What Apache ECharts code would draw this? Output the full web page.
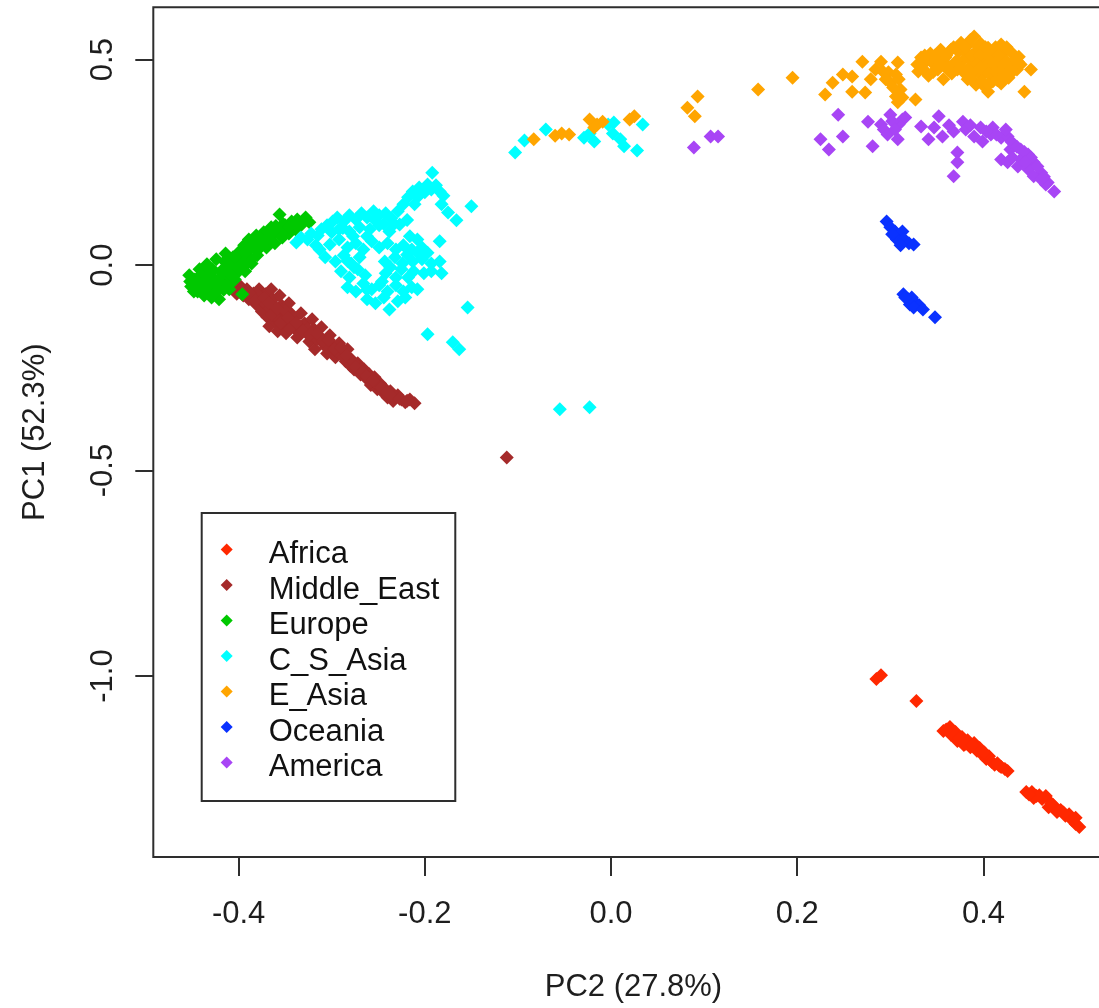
<!DOCTYPE html>
<html>
<head>
<meta charset="utf-8">
<script src="https://cdn.jsdelivr.net/npm/echarts@6/dist/echarts.min.js"></script>
<style>
html,body{margin:0;padding:0;background:#fff;overflow:hidden;}
#chart{width:1120px;height:1008px;}
</style>
</head>
<body>
<div id="chart"></div>
<script>
// ---------- data (PC2, PC1) ----------
const groupNames = ['Africa','Middle_East','Europe','C_S_Asia','E_Asia','Oceania','America'];
const xTicks = [-0.4,-0.2,0.0,0.2,0.4];
const yTicks = [-1.0,-0.5,0.0,0.5];

const africa = [
[0.285,-1.007],[0.290,-0.998],[0.328,-1.061],
[0.357,-1.134],[0.364,-1.124],[0.365,-1.143],[0.370,-1.136],[0.372,-1.158],[0.377,-1.148],[0.379,-1.168],[0.383,-1.156],[0.386,-1.173],[0.390,-1.163],[0.393,-1.182],[0.396,-1.175],[0.399,-1.192],[0.403,-1.202],[0.406,-1.195],[0.409,-1.209],[0.412,-1.216],[0.415,-1.212],[0.419,-1.221],[0.423,-1.226],[0.426,-1.231],
[0.360,-1.130],[0.374,-1.152],[0.381,-1.165],[0.388,-1.168],[0.401,-1.186],[0.417,-1.218],
[0.446,-1.282],[0.452,-1.282],[0.457,-1.292],[0.463,-1.299],[0.467,-1.292],[0.470,-1.319],[0.475,-1.314],[0.479,-1.331],[0.483,-1.326],[0.488,-1.340],[0.492,-1.336],[0.495,-1.350],[0.499,-1.360],[0.503,-1.367],[0.499,-1.345],[0.454,-1.297],
[0.460,-1.290],[0.473,-1.310],[0.486,-1.332],[0.449,-1.288]
];

const middleEast = [
[-0.417,-0.045],[-0.410,-0.057],[-0.404,-0.064],[-0.399,-0.049],[-0.395,-0.074],[-0.391,-0.059],[-0.389,-0.083],[-0.384,-0.069],[-0.381,-0.096],[-0.378,-0.059],
[-0.376,-0.083],[-0.375,-0.113],[-0.371,-0.071],[-0.370,-0.098],[-0.369,-0.127],[-0.367,-0.149],[-0.365,-0.059],[-0.363,-0.083],[-0.362,-0.113],[-0.361,-0.137],
[-0.358,-0.161],[-0.356,-0.074],[-0.354,-0.098],[-0.353,-0.122],[-0.351,-0.147],[-0.349,-0.166],[-0.346,-0.093],[-0.344,-0.117],[-0.343,-0.142],[-0.339,-0.156],
[-0.337,-0.176],[-0.333,-0.117],[-0.329,-0.142],[-0.327,-0.166],[-0.324,-0.186],[-0.321,-0.132],[-0.319,-0.156],[-0.318,-0.205],[-0.313,-0.176],[-0.311,-0.151],
[-0.308,-0.193],[-0.305,-0.215],[-0.302,-0.171],[-0.299,-0.195],[-0.296,-0.224],[-0.292,-0.190],[-0.288,-0.215],[-0.285,-0.234],[-0.283,-0.205],[-0.279,-0.229],
[-0.276,-0.254],[-0.272,-0.239],[-0.269,-0.266],[-0.265,-0.254],[-0.262,-0.278],[-0.258,-0.292],[-0.254,-0.273],[-0.251,-0.302],[-0.248,-0.288],[-0.244,-0.312],
[-0.240,-0.322],[-0.237,-0.307],[-0.234,-0.331],[-0.229,-0.317],[-0.225,-0.327],[-0.221,-0.334],[-0.216,-0.327],[-0.211,-0.336],
[-0.405,-0.055],[-0.393,-0.066],[-0.386,-0.078],[-0.380,-0.070],[-0.373,-0.090],[-0.366,-0.105],[-0.358,-0.130],[-0.350,-0.110],[-0.341,-0.130],[-0.334,-0.150],
[-0.326,-0.155],[-0.316,-0.180],[-0.306,-0.200],[-0.294,-0.210],[-0.287,-0.225],[-0.280,-0.245],[-0.270,-0.250],[-0.260,-0.265],[-0.252,-0.288],[-0.243,-0.300],[-0.232,-0.320],
[-0.412,-0.050],[-0.402,-0.070],[-0.397,-0.058],[-0.388,-0.068],[-0.382,-0.085],[-0.372,-0.080],[-0.368,-0.092],[-0.364,-0.120],[-0.359,-0.105],[-0.355,-0.140],
[-0.347,-0.128],[-0.345,-0.155],[-0.338,-0.140],[-0.331,-0.160],[-0.323,-0.168],[-0.315,-0.168],[-0.310,-0.185],[-0.303,-0.182],[-0.297,-0.205],[-0.290,-0.200],
[-0.284,-0.220],[-0.277,-0.236],[-0.274,-0.248],[-0.267,-0.260],[-0.263,-0.270],[-0.256,-0.280],[-0.247,-0.298],[-0.241,-0.308],[-0.236,-0.318],[-0.227,-0.325],[-0.219,-0.330],
[-0.112,-0.468]
];

const europe = [
[-0.452,-0.040],[-0.453,-0.025],[-0.451,-0.052],[-0.447,-0.035],[-0.444,-0.064],[-0.442,-0.010],[-0.440,-0.045],[-0.437,-0.074],[-0.435,-0.025],[-0.434,0.002],
[-0.432,-0.054],[-0.429,-0.079],[-0.428,-0.010],[-0.426,-0.035],[-0.424,0.014],[-0.423,-0.064],[-0.421,-0.083],[-0.419,-0.015],[-0.418,-0.045],[-0.415,0.009],
[-0.414,0.028],[-0.412,-0.025],[-0.410,-0.059],[-0.408,-0.001],[-0.406,0.019],[-0.404,-0.035],[-0.401,-0.010],[-0.399,0.033],[-0.397,0.009],[-0.396,-0.071],
[-0.394,0.048],[-0.393,-0.015],[-0.391,0.024],[-0.389,0.062],[-0.386,0.004],[-0.384,0.043],[-0.381,0.072],[-0.380,0.024],[-0.376,0.058],[-0.373,0.080],
[-0.370,0.043],[-0.367,0.067],[-0.365,0.092],[-0.361,0.053],[-0.358,0.082],[-0.356,0.123],[-0.353,0.067],[-0.350,0.097],[-0.346,0.077],[-0.343,0.106],
[-0.339,0.087],[-0.337,0.111],[-0.333,0.097],[-0.328,0.116],[-0.324,0.104],[-0.428,-0.059],[-0.448,-0.064],
[-0.446,-0.050],[-0.441,-0.025],[-0.436,-0.040],[-0.431,-0.020],[-0.425,-0.050],[-0.420,-0.030],[-0.416,-0.060],[-0.413,-0.005],[-0.409,-0.040],[-0.405,0.005],
[-0.402,-0.020],[-0.398,0.020],[-0.395,-0.005],[-0.390,0.040],[-0.387,0.015],[-0.383,0.058],[-0.378,0.040],[-0.374,0.062],[-0.369,0.080],[-0.364,0.075],
[-0.360,0.095],[-0.355,0.085],[-0.348,0.090],[-0.341,0.098],[-0.335,0.105],[-0.330,0.110],[-0.438,-0.060],[-0.433,-0.068],[-0.427,-0.070],
[-0.449,-0.045],[-0.443,-0.040],[-0.439,-0.052],[-0.434,-0.030],[-0.430,-0.045],[-0.422,-0.040],[-0.417,-0.020],[-0.411,-0.050],[-0.407,-0.025],[-0.403,0.020],
[-0.392,0.030],[-0.388,0.050],[-0.379,0.060],[-0.371,0.060],[-0.362,0.085],[-0.352,0.100],[-0.345,0.093],[-0.338,0.100]
];

const csAsia = [
[-0.338,0.055],[-0.333,0.067],[-0.326,0.062],[-0.322,0.077],[-0.315,0.072],[-0.311,0.087],[-0.305,0.097],[-0.299,0.106],[-0.317,0.048],
[-0.294,0.116],[-0.287,0.106],[-0.281,0.121],[-0.274,0.111],[-0.268,0.126],[-0.262,0.116],[-0.255,0.131],[-0.249,0.121],[-0.242,0.126],[-0.236,0.114],[-0.229,0.131],
[-0.223,0.148],[-0.218,0.165],[-0.213,0.179],[-0.208,0.165],[-0.206,0.189],[-0.200,0.177],[-0.197,0.196],[-0.193,0.184],[-0.188,0.194],[-0.184,0.179],[-0.180,0.169],
[-0.211,0.148],[-0.192,0.225],[-0.182,0.148],[-0.175,0.128],[-0.166,0.109],[-0.150,0.143],
[-0.292,0.087],[-0.281,0.082],[-0.270,0.092],[-0.259,0.087],[-0.249,0.097],[-0.238,0.082],[-0.227,0.099],[-0.216,0.070],[-0.208,0.062],
[-0.313,0.038],[-0.302,0.050],[-0.292,0.062],[-0.283,0.043],[-0.274,0.053],[-0.266,0.038],[-0.257,0.058],[-0.249,0.043],[-0.240,0.053],[-0.231,0.038],[-0.223,0.048],[-0.214,0.038],[-0.203,0.043],
[-0.307,0.019],[-0.296,0.009],[-0.287,0.024],[-0.279,0.004],[-0.270,0.019],[-0.243,0.009],[-0.232,0.019],[-0.224,0.004],[-0.213,0.009],[-0.203,0.014],[-0.193,0.004],[-0.184,0.009],
[-0.290,-0.015],[-0.281,-0.030],[-0.272,-0.010],[-0.264,-0.025],[-0.242,-0.020],[-0.231,-0.030],[-0.225,-0.010],[-0.201,-0.020],[-0.193,-0.015],[-0.182,-0.020],[-0.184,0.058],
[-0.283,-0.054],[-0.274,-0.064],[-0.266,-0.045],[-0.257,-0.059],[-0.249,-0.049],[-0.240,-0.064],[-0.231,-0.049],[-0.223,-0.064],[-0.214,-0.054],[-0.208,-0.059],
[-0.262,-0.083],[-0.253,-0.093],[-0.244,-0.079],[-0.238,-0.108],[-0.229,-0.088],[-0.221,-0.079],
[-0.300,0.080],[-0.288,0.090],[-0.277,0.070],[-0.262,0.070],[-0.253,0.108],[-0.244,0.100],[-0.233,0.100],[-0.219,0.110],[-0.219,0.025],[-0.208,0.030],
[-0.197,0.030],[-0.276,-0.005],[-0.283,0.010],[-0.237,-0.005],[-0.218,-0.030],[-0.212,-0.015],[-0.246,-0.040],[-0.262,-0.060],
[-0.154,-0.103],[-0.197,-0.168],[-0.170,-0.188],[-0.163,-0.205],[-0.055,-0.351],[-0.023,-0.346],
[-0.103,0.274],[-0.093,0.303],[-0.070,0.330],[-0.029,0.310],[-0.023,0.320],[-0.018,0.301],[-0.003,0.342],[0.003,0.347],[0.002,0.320],[0.010,0.306],[0.014,0.289],[0.028,0.279],[0.034,0.342]
];

const eAsia = [
[-0.083,0.306],[-0.060,0.315],[-0.053,0.320],[-0.045,0.318],[-0.023,0.354],[-0.015,0.342],[-0.009,0.349],[-0.018,0.335],[0.025,0.362],[0.020,0.354],
[0.082,0.383],[0.090,0.362],[0.093,0.410],[0.158,0.427],[0.195,0.456],
[0.230,0.415],[0.238,0.444],[0.249,0.464],[0.259,0.459],[0.259,0.422],[0.270,0.495],[0.273,0.420],[0.279,0.452],[0.290,0.495],[0.292,0.471],
[0.298,0.469],[0.308,0.493],[0.300,0.444],[0.306,0.410],[0.311,0.427],[0.313,0.408],[0.308,0.396],[0.327,0.403],[0.295,0.452],[0.303,0.432],
[0.284,0.476],[0.306,0.464],[0.309,0.452],
[0.376,0.541],[0.390,0.556],[0.384,0.537],[0.397,0.539],[0.405,0.529],[0.419,0.537],
[0.333,0.505],[0.343,0.515],[0.354,0.524],[0.365,0.524],[0.373,0.520],[0.382,0.515],[0.392,0.520],[0.401,0.512],[0.411,0.520],[0.421,0.515],[0.429,0.520],[0.438,0.507],
[0.329,0.488],[0.338,0.495],[0.349,0.500],[0.359,0.505],[0.370,0.495],[0.379,0.500],[0.389,0.495],[0.397,0.500],[0.408,0.495],[0.416,0.500],[0.425,0.495],[0.434,0.495],[0.440,0.488],
[0.330,0.471],[0.341,0.461],[0.351,0.476],[0.372,0.476],[0.380,0.466],[0.392,0.471],[0.401,0.476],[0.410,0.471],[0.419,0.476],[0.427,0.466],[0.436,0.476],
[0.357,0.452],[0.383,0.452],[0.392,0.439],[0.402,0.432],[0.410,0.447],[0.419,0.442],[0.427,0.456],[0.405,0.422],[0.451,0.476],[0.444,0.422],
[0.372,0.530],[0.386,0.548],[0.395,0.530],[0.413,0.530],[0.346,0.490],[0.362,0.485],[0.386,0.484],[0.404,0.486],[0.420,0.485],[0.366,0.466],[0.398,0.460],[0.414,0.458],[0.388,0.450],
[0.368,0.530],[0.380,0.530],[0.402,0.530],[0.425,0.530],[0.337,0.510],[0.348,0.510],[0.360,0.510],[0.387,0.510],[0.396,0.510],[0.406,0.510],[0.416,0.510],[0.433,0.510],
[0.333,0.490],[0.354,0.490],[0.374,0.490],[0.393,0.490],[0.412,0.490],[0.430,0.490],[0.437,0.495],
[0.335,0.478],[0.346,0.470],[0.362,0.475],[0.377,0.478],[0.386,0.470],[0.396,0.478],[0.405,0.466],[0.414,0.470],[0.423,0.480],[0.431,0.470],
[0.398,0.448],[0.405,0.440],[0.415,0.450],[0.423,0.462]
];

const oceania = [
[0.296,0.106],[0.300,0.092],[0.305,0.082],[0.309,0.072],[0.313,0.082],[0.307,0.062],[0.315,0.062],[0.320,0.053],[0.325,0.050],[0.302,0.075],[0.311,0.048],
[0.314,-0.071],[0.319,-0.083],[0.323,-0.079],[0.321,-0.096],[0.327,-0.091],[0.331,-0.098],[0.325,-0.103],[0.335,-0.108],[0.316,-0.079],[0.348,-0.127]
];

const america = [
[0.089,0.286],[0.107,0.313],[0.115,0.313],
[0.244,0.366],[0.225,0.306],[0.234,0.281],[0.249,0.313],[0.276,0.349],[0.281,0.289],[0.290,0.342],[0.293,0.330],[0.297,0.318],[0.300,0.366],
[0.308,0.306],[0.313,0.354],[0.309,0.342],[0.316,0.359],[0.333,0.337],[0.341,0.306],[0.347,0.335],[0.352,0.362],[0.356,0.313],[0.368,0.325],
[0.372,0.274],[0.372,0.250],[0.368,0.216],[0.378,0.349],[0.381,0.330],[0.390,0.313],[0.397,0.335],[0.399,0.301],[0.410,0.335],[0.419,0.310],
[0.426,0.313],[0.433,0.293],[0.440,0.281],[0.448,0.269],[0.454,0.250],[0.462,0.225],[0.469,0.201],[0.419,0.257],[0.426,0.250],[0.437,0.240],
[0.448,0.233],[0.454,0.216],[0.476,0.179],[0.467,0.196],[0.424,0.330],[0.408,0.318],[0.429,0.281],[0.440,0.257],[0.462,0.208],
[0.430,0.300],[0.436,0.288],[0.444,0.275],[0.451,0.262],[0.458,0.240],[0.465,0.215],[0.445,0.250],[0.431,0.262],[0.414,0.318],[0.403,0.325],
[0.386,0.340],[0.363,0.340],[0.302,0.350],[0.305,0.330]
];

const groupData = [africa, middleEast, europe, csAsia, eAsia, oceania, america];

// ---------- style ----------
const groupColors = ['#FF2800','#A52A2A','#00C800','#00FFFF','#FFA500','#0A32FF','#A845F5'];
const FONT = '"Liberation Sans", Arial, sans-serif';
const TXT = '#1e1e1e';
const LINE = '#2e2e2e';

const chart = echarts.init(document.getElementById('chart'), null, {renderer:'canvas'});

const series = groupNames.map((name, i) => ({
  name: name,
  type: 'scatter',
  data: groupData[i],
  symbol: 'diamond',
  symbolSize: 14,
  itemStyle: {color: groupColors[i], opacity: 1},
  emphasis: {disabled: true},
  animation: false
}));

chart.setOption({
  animation: false,
  backgroundColor: '#ffffff',
  grid: {
    left: 153.3, right: 6.4, top: 7.3, bottom: 147,
    show: true, borderColor: LINE, borderWidth: 2, backgroundColor: 'transparent'
  },
  xAxis: {
    type: 'value', min: -0.4916, max: 0.5398,
    splitLine: {show: false},
    axisLine: {show: false, onZero: false},
    axisTick: {show: true, customValues: xTicks, length: 19, inside: false, lineStyle: {color: LINE, width: 2}},
    axisLabel: {customValues: xTicks, formatter: v => v.toFixed(1), margin: 42, fontSize: 31, fontFamily: FONT, color: TXT},
    name: 'PC2 (27.8%)', nameLocation: 'middle', nameGap: 115,
    nameTextStyle: {fontSize: 31, fontFamily: FONT, color: TXT}
  },
  yAxis: {
    type: 'value', min: -1.4403, max: 0.6273,
    splitLine: {show: false},
    axisLine: {show: false, onZero: false},
    axisTick: {show: true, customValues: yTicks, length: 18, inside: false, lineStyle: {color: LINE, width: 2}},
    axisLabel: {customValues: yTicks, formatter: v => v.toFixed(1), rotate: 90, margin: 34, fontSize: 31, fontFamily: FONT, color: TXT},
    name: 'PC1 (52.3%)', nameLocation: 'middle', nameGap: 102, nameRotate: 90,
    nameTextStyle: {fontSize: 31, fontFamily: FONT, color: TXT}
  },
  legend: {
    data: groupNames,
    orient: 'vertical',
    left: 201.7, top: 513,
    padding: [16, 16, 18, 19],
    itemWidth: 12, itemHeight: 12, itemGap: -5.5,
    icon: 'diamond',
    borderColor: LINE, borderWidth: 2,
    backgroundColor: '#ffffff',
    selectedMode: false,
    formatter: name => '{t|' + name + '}',
    textStyle: {
      fontSize: 31, fontFamily: FONT, color: '#111',
      rich: {t: {fontSize: 31, fontFamily: FONT, color: '#111', lineHeight: 25.8, padding: [10, 0, 0, 31]}}
    }
  },
  series: series
});
</script>
</body>
</html>
